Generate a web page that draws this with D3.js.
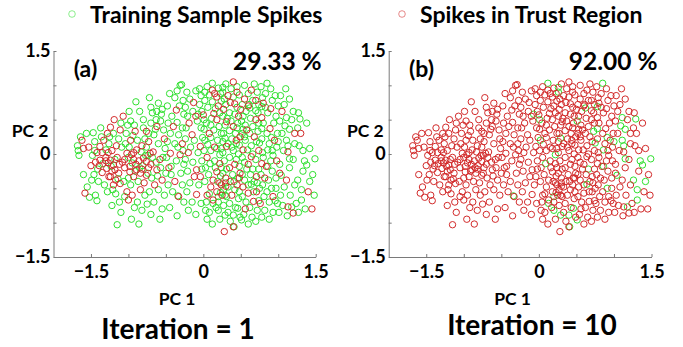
<!DOCTYPE html>
<html>
<head>
<meta charset="utf-8">
<script src="https://cdn.jsdelivr.net/npm/d3@7"></script>
<style>
  body { margin: 0; background: #fff; }
  svg { display: block; }
  text { font-family: Lato, "Open Sans", sans-serif; font-weight: 700; fill: #000; }
</style>
</head>
<body>
<svg id="chart" width="683" height="347"></svg>
<script>
// Spike features projected on the first two principal components [PC1, PC2].
// Spikes already inside the trust region at the first iteration.
const trustFromStart = [
  [-1.62,0.2],[-1.6,0.08],[-1.58,-0.57],[-1.5,-0.17],[-1.53,0.1],
  [-1.38,0.11],[-1.38,-0.09],[-1.39,-0.17],[-1.29,-0.21],[-1.3,-0.05],[-1.27,-0.13],[-1.44,-0.12],[-1.33,0.2],[-1.26,-0.33],[-1.35,-0.27],[-1.42,0.02],[-1.28,0.3],
  [-1.24,-0.09],[-1.2,-0.16],[-1.18,-0.23],[-1.13,-0.28],[-1.11,-0.43],[-1.2,-0.45],[-1.24,-0.33],[-1.19,0.5],[-1.07,0.55],[-1.24,0.39],[-1.11,0.35],[-1.02,-0.55],[-1.0,-0.67],[-1.02,0.01],[-1.15,-0.05],[-1.08,-0.12],[-1.22,0.05],[-1.05,-0.2],[-1.16,0.12],
  [-0.96,-0.01],[-0.89,0.06],[-0.8,-0.06],[-0.76,-0.11],[-0.98,-0.18],[-0.89,-0.23],[-0.84,-0.28],[-0.93,-0.33],[-0.84,-0.52],[-0.76,-0.31],[-0.91,0.33],[-0.76,0.33],[-0.86,-0.1],[-0.93,-0.08],[-0.82,0.12],[-0.97,0.2],[-0.79,-0.42],[-0.95,-0.6],
  [-0.71,0.01],[-0.67,0.03],[-0.62,-0.23],[-0.62,0.4],[-0.7,-0.15],[-0.58,-0.08],[-0.73,0.18],[-0.55,-0.38],[-0.65,-0.45],[-0.52,0.22],
  [-0.44,0.01],[-0.31,-0.01],[-0.4,0.4],[-0.36,0.64],[-0.33,-0.62],[-0.46,-0.2],[-0.28,0.15],[-0.38,-0.4],
  [-0.19,0.45],[-0.13,0.75],[-0.04,0.11],[-0.09,-0.23],[-0.04,-0.33],[-0.09,-0.59],[-0.12,-0.33],[-0.2,0.02],[-0.15,0.28],
  [0.12,0.93],[0.18,0.83],[0.0,0.57],[0.14,0.59],[0.18,0.5],[0.13,-0.38],[0.24,-0.45],[0.18,-0.55],[0.13,-0.67],[0.22,-0.14],[0.18,-0.26],[0.08,0.3],[0.2,0.7],[0.05,-0.05],[0.15,0.1],[0.1,-0.48],
  [0.4,1.05],[0.36,0.75],[0.42,0.73],[0.31,0.47],[0.4,0.4],[0.49,0.25],[0.44,0.2],[0.31,0.11],[0.49,-0.28],[0.28,-1.13],[0.4,-1.06],[0.35,-0.2],[0.3,-0.35],[0.45,-0.45],[0.38,-0.6],[0.27,0.65],[0.47,0.55],[0.33,0.85],[0.42,-0.15],[0.36,-0.4],
  [0.64,0.93],[0.58,0.35],[0.53,0.06],[0.64,-0.04],[0.53,-0.48],[0.6,-0.57],[0.71,-0.55],[0.67,-0.69],[0.71,-0.33],[0.55,0.8],[0.7,0.5],[0.6,-0.15],[0.56,-0.8],[0.74,0.05],[0.68,0.25],
  [0.8,0.74],[0.9,0.66],[0.78,0.53],[0.89,0.37],[0.78,-0.14],[0.84,-0.18],[0.76,-0.72],[0.93,-0.62],[0.95,0.2],[0.82,-0.35],[0.98,-0.1],
  [1.13,0.03],[1.02,-0.28],[1.11,-0.38],[1.13,-0.77],[1.2,-0.86],[1.05,0.62],[1.22,0.3],
  [1.45,-0.8],[1.3,0.3],[1.4,-0.55],
  [-1.3,-0.1],[-1.22,-0.25],[-1.12,-0.15],[-1.05,-0.08],[-0.98,-0.26],[-0.9,-0.15],[-0.82,-0.22],[-1.35,0.02],[-1.17,-0.38],[-0.73,-0.2],[-1.27,0.02],[-0.93,0.02],
  [0.22,-0.42],[0.3,-0.47],[0.5,0.65],[0.15,0.88],[0.45,0.9],[0.6,0.7],[0.25,-0.6],[0.48,-0.35],[0.05,-0.6],[-0.1,0.55],[0.7,0.78]
];

// Spikes that joined the trust region by iteration 10.
const trustByIter10 = [
  [-1.68,0.12],[-1.67,0.05],[-1.64,0.25],[-1.56,0.3],[-1.66,-0.02],[-1.55,-0.48],[-1.52,-0.63],[-1.6,-0.3],
  [-1.47,0.31],[-1.44,-0.6],[-1.42,-0.68],[-1.48,-0.02],[-1.46,-0.3],[-1.4,-0.4],[-1.36,0.25],[-1.32,-0.45],[-1.45,0.18],[-1.3,0.06],[-1.34,-0.14],[-1.28,-0.55],[-1.41,-0.22],[-1.26,0.15],[-1.49,-0.38],[-1.37,0.38],
  [-1.15,-1.03],[-1.22,-0.75],[-1.1,-0.85],[-1.05,-0.62],[-1.17,-0.58],[-1.25,0.25],[-1.13,0.22],[-1.03,0.3],[-1.2,0.3],[-1.09,0.1],[-1.0,-0.05],[-1.14,-0.36],[-1.06,-0.4],[-1.23,-0.18],[-1.1,0.45],[-1.01,0.42],[-1.18,-0.08],[-1.04,0.15],[-1.12,-0.7],[-1.21,-0.52],
  [-0.9,0.76],[-0.85,0.62],[-0.97,0.48],[-0.8,0.5],[-0.92,0.42],[-0.78,0.22],[-0.88,0.2],[-0.99,0.1],[-0.83,0.03],[-0.77,-0.02],[-0.95,-0.13],[-0.81,-0.17],[-0.87,-0.4],[-0.97,-0.45],[-0.78,-0.6],[-0.88,-0.7],[-0.82,-0.82],[-0.92,-0.78],[-0.96,-0.95],[-0.86,-1.02],[-0.75,-0.73],[-0.99,0.62],[-0.94,0.27],[-0.8,0.38],[-0.91,-0.25],[-0.76,0.1],[-0.85,-0.2],
  [-0.72,0.82],[-0.6,0.74],[-0.68,0.6],[-0.55,0.65],[-0.63,0.5],[-0.7,0.45],[-0.57,0.48],[-0.73,0.3],[-0.66,0.28],[-0.6,0.15],[-0.51,0.08],[-0.68,-0.05],[-0.54,-0.05],[-0.63,-0.12],[-0.74,-0.28],[-0.57,-0.2],[-0.69,-0.35],[-0.5,-0.28],[-0.6,-0.52],[-0.72,-0.55],[-0.52,-0.6],[-0.66,-0.7],[-0.55,-0.8],[-0.7,-0.88],[-0.58,-0.95],[-0.64,0.36],[-0.53,0.35],[-0.74,-0.02],[-0.61,-0.32],[-0.56,0.58],
  [-0.31,1.0],[-0.29,1.01],[-0.45,0.88],[-0.38,0.82],[-0.27,0.78],[-0.48,0.7],[-0.32,0.7],[-0.42,0.55],[-0.26,0.58],[-0.47,0.45],[-0.35,0.46],[-0.28,0.38],[-0.44,0.3],[-0.33,0.28],[-0.48,0.18],[-0.38,0.15],[-0.27,0.05],[-0.49,-0.05],[-0.36,-0.1],[-0.26,-0.15],[-0.43,-0.3],[-0.3,-0.28],[-0.47,-0.45],[-0.28,-0.45],[-0.41,-0.55],[-0.26,-0.7],[-0.45,-0.78],[-0.35,-0.9],[-0.43,-0.18],[-0.34,0.1],
  [-0.22,0.9],[-0.1,0.92],[-0.03,0.85],[-0.18,0.8],[-0.05,0.72],[-0.24,0.68],[-0.14,0.62],[-0.02,0.62],[-0.21,0.55],[-0.08,0.48],[-0.23,0.38],[-0.03,0.38],[-0.12,0.2],[-0.01,0.24],[-0.24,0.22],[-0.17,0.1],[-0.07,0.02],[-0.24,-0.08],[-0.14,-0.12],[-0.02,-0.1],[-0.21,-0.25],[-0.02,-0.22],[-0.18,-0.42],[-0.06,-0.45],[-0.22,-0.55],[-0.15,-0.7],[-0.03,-0.72],[-0.2,-0.82],[-0.1,-0.88],[-0.05,0.95],
  [0.05,0.98],[0.2,0.96],[0.08,0.86],[0.23,0.88],[0.02,0.78],[0.12,0.76],[0.24,0.77],[0.06,0.68],[0.16,0.66],[0.22,0.6],[0.04,0.45],[0.1,0.42],[0.21,0.4],[0.01,0.36],[0.14,0.35],[0.24,0.3],[0.06,0.14],[0.19,0.2],[0.1,0.05],[0.24,0.08],[0.03,-0.2],[0.16,-0.2],[0.07,-0.3],[0.23,-0.32],[0.02,-0.4],[0.19,-0.4],[0.08,-0.58],[0.23,-0.56],[0.04,-0.7],[0.17,-0.78],[0.08,-0.85],[0.22,-0.95],[0.12,-1.02],[0.1,0.24],[0.01,0.05],[0.15,-0.1],[0.2,-0.7],[0.11,0.52],[0.05,-0.95],[0.24,-0.2],[0.02,0.9],
  [0.3,1.02],[0.45,0.98],[0.37,0.95],[0.28,0.8],[0.48,0.86],[0.4,0.83],[0.3,0.72],[0.45,0.68],[0.35,0.6],[0.26,0.55],[0.42,0.58],[0.29,0.42],[0.46,0.45],[0.35,0.34],[0.27,0.3],[0.43,0.3],[0.38,0.22],[0.48,0.13],[0.33,0.15],[0.26,0.02],[0.4,0.05],[0.47,0.0],[0.35,-0.05],[0.28,-0.1],[0.44,-0.08],[0.31,-0.22],[0.48,-0.18],[0.39,-0.3],[0.26,-0.28],[0.46,-0.35],[0.33,-0.48],[0.27,-0.52],[0.42,-0.52],[0.31,-0.62],[0.47,-0.65],[0.35,-0.72],[0.27,-0.75],[0.43,-0.78],[0.33,-0.85],[0.49,-0.92],[0.36,-0.98],[0.3,-0.42],[0.38,0.1],[0.45,0.38],[0.32,0.52],[0.41,-0.4],[0.29,-0.6],[0.37,0.48],[0.48,-0.55],[0.26,0.18],[0.44,0.15],
  [0.55,1.0],[0.68,1.02],[0.6,0.88],[0.72,0.9],[0.52,0.72],[0.66,0.78],[0.74,0.72],[0.57,0.62],[0.7,0.63],[0.53,0.55],[0.63,0.52],[0.74,0.45],[0.56,0.42],[0.66,0.4],[0.52,0.3],[0.62,0.3],[0.71,0.18],[0.56,0.2],[0.64,0.12],[0.52,-0.05],[0.7,-0.08],[0.58,-0.22],[0.74,-0.22],[0.52,-0.3],[0.63,-0.3],[0.55,-0.38],[0.72,-0.42],[0.6,-0.45],[0.67,-0.55],[0.52,-0.62],[0.57,-0.7],[0.74,-0.68],[0.62,-0.78],[0.72,-0.82],[0.54,-0.88],[0.65,-0.92],[0.6,-1.02],[0.7,-0.98],[0.59,0.06],[0.68,-0.4],[0.55,-0.12],[0.73,0.6],[0.61,0.72],[0.66,0.0],[0.53,0.36],[0.75,-0.5],
  [0.77,0.98],[0.9,0.95],[0.83,0.88],[0.96,0.85],[0.79,0.82],[0.92,0.78],[0.86,0.6],[0.97,0.55],[0.8,0.45],[0.94,0.45],[0.85,0.3],[0.78,0.22],[0.88,0.15],[0.98,0.1],[0.79,0.02],[0.93,-0.02],[0.77,-0.3],[0.92,-0.25],[0.87,-0.38],[0.97,-0.35],[0.79,-0.45],[0.85,-0.55],[0.97,-0.5],[0.81,-0.62],[0.88,-0.7],[0.99,-0.72],[0.82,-0.82],[0.93,-0.85],[0.78,-0.92],[0.88,-0.95],[0.96,-0.68],[0.83,0.68],[0.99,0.3],[0.9,-0.1],
  [1.03,0.85],[1.15,0.8],[1.08,0.72],[1.2,0.62],[1.02,0.48],[1.18,0.5],[1.05,0.3],[1.22,0.15],[1.07,0.05],[1.2,-0.08],[1.02,-0.15],[1.15,-0.2],[1.08,-0.48],[1.22,-0.45],[1.03,-0.6],[1.16,-0.6],[1.06,-0.75],[1.12,-0.9],[1.24,-0.72],[1.01,-0.85],[1.1,0.95],
  [1.27,0.6],[1.38,0.45],[1.28,0.12],[1.42,0.08],[1.33,-0.25],[1.46,-0.3],[1.27,-0.85],[1.36,-0.8],[1.26,0.38],[1.48,-0.6],[1.33,0.05],
  [-1.45,0.05],[-1.0,-0.35],[-0.7,0.68],[-0.35,0.92],[0.03,-0.82],[0.55,0.25],[0.8,-0.05],[1.0,0.7],[0.92,0.05],[0.18,0.08],[-0.62,0.62]
];

// Spikes still outside the trust region after iteration 10.
const outsideTrust = [
  [0.12,1.03],[0.26,0.97],[0.26,0.9],[0.85,1.03],[-0.07,0.58],[0.01,0.5],[0.51,0.48],[0.73,0.33],
  [0.78,0.37],[1.11,0.53],[1.29,0.51],[1.15,0.36],[1.09,0.41],[0.91,0.24],[1.0,0.18],[1.11,0.2],
  [1.13,0.12],[1.15,-0.07],[1.35,-0.1],[1.49,-0.07],[1.38,-0.16],[0.09,-0.14],[0.22,-0.01],[0.29,0.23],
  [0.02,0.2],[0.75,0.16],[0.86,0.06],[0.86,-0.18],[0.66,-0.22],[0.64,-0.44],[0.91,-0.5],[1.04,-0.31],
  [1.26,-0.38],[1.42,-0.4],[1.31,-0.52],[1.31,-0.67],[1.18,-0.77],[-0.34,-0.61],[0.2,-0.62],[0.13,-0.72],
  [0.2,-0.82],[0.46,-0.79],[0.4,-0.89],[0.51,-0.96],[0.41,-1.06],[0.29,-0.89],[0.62,0.67],[0.78,0.69]
];

// Axis setup shared by both panels.
const xDomain = [-2, 1.5];
const yDomain = [-1.5, 1.5];
const axisTicks = [-1.5, -1, -0.5, 0, 0.5, 1, 1.5];
const labelledTicks = [-1.5, 0, 1.5];

const legendItems = [
  { label: "Training Sample Spikes", color: "#2fe02f" },
  { label: "Spikes in Trust Region", color: "#d22a2a" }
];

const panels = [
  { tag: "(a)", iteration: 1,
    trust: trustFromStart,
    training: trustByIter10.concat(outsideTrust),
    x0: 53.5, x1: 315.7, iterY: 339, iterX: 178 },
  { tag: "(b)", iteration: 10,
    trust: trustFromStart.concat(trustByIter10),
    training: outsideTrust,
    x0: 388.7, x1: 651.5, iterY: 335, iterX: 532 }
];

const svg = d3.select("#chart");
const green = legendItems[0].color, red = legendItems[1].color;
const fmt = d => (d === 0 ? "0" : d3.format(".1f")(d));

// Legend row
const legendX = [72, 402];
legendItems.forEach((item, i) => {
  svg.append("circle")
    .attr("cx", legendX[i]).attr("cy", 14).attr("r", 3.3)
    .attr("fill", "none").attr("stroke", item.color)
    .attr("stroke-opacity", 0.55).attr("stroke-width", 1);
  svg.append("text")
    .attr("x", legendX[i] + 18).attr("y", 23)
    .attr("font-size", 23)
    .text(item.label);
});

panels.forEach(p => {
  const x = d3.scaleLinear().domain(xDomain).range([p.x0, p.x1]);
  const y = d3.scaleLinear().domain(yDomain).range([257, 51]);
  const g = svg.append("g");

  const xAxis = d3.axisBottom(x).tickValues(axisTicks)
    .tickSize(-3).tickSizeOuter(0).tickPadding(8)
    .tickFormat(d => labelledTicks.includes(d) ? fmt(d) : "");
  const yAxis = d3.axisLeft(y).tickValues(axisTicks)
    .tickSize(-3).tickSizeOuter(0).tickPadding(3)
    .tickFormat(d => labelledTicks.includes(d) ? fmt(d) : "");

  const gx = g.append("g").attr("transform", `translate(0,${y(-1.5)})`).call(xAxis);
  const gy = g.append("g").attr("transform", `translate(${x(-2)},0)`).call(yAxis);
  [gx, gy].forEach(a => {
    a.select(".domain").attr("stroke", "#7a7a7a");
    a.selectAll(".tick line").attr("stroke", "#7a7a7a");
    a.selectAll(".tick text")
      .style("font-family", "Lato, 'Open Sans', sans-serif")
      .style("font-weight", 700).attr("font-size", 18).attr("fill", "#000");
  });

  // Scatter: training spikes first, trust-region spikes on top
  const dots = g.append("g").attr("fill", "none").attr("stroke-width", 1);
  dots.selectAll(".train").data(p.training).join("circle")
    .attr("cx", d => x(d[0])).attr("cy", d => y(d[1])).attr("r", 3.2)
    .attr("stroke", green);
  dots.selectAll(".trust").data(p.trust).join("circle")
    .attr("cx", d => x(d[0])).attr("cy", d => y(d[1])).attr("r", 3.2)
    .attr("stroke", red);

  const total = p.trust.length + p.training.length;
  const pct = (p.trust.length / total * 100).toFixed(2) + " %";

  g.append("text").attr("x", x(1.5) + 6).attr("y", 70)
    .attr("text-anchor", "end").attr("font-size", 24.5).text(pct);
  g.append("text").attr("x", x(-1.73)).attr("y", 77)
    .attr("font-size", 23).text(p.tag);

  g.append("text").attr("x", x(-2) - 5).attr("y", 137)
    .attr("text-anchor", "end").attr("font-size", 17.5).text("PC 2");
  g.append("text").attr("x", x(-0.35)).attr("y", 305)
    .attr("text-anchor", "middle").attr("font-size", 17.5).text("PC 1");
  g.append("text").attr("x", p.iterX).attr("y", p.iterY)
    .attr("text-anchor", "middle").attr("font-size", 28)
    .text("Iteration = " + p.iteration);
});
</script>
</body>
</html>
